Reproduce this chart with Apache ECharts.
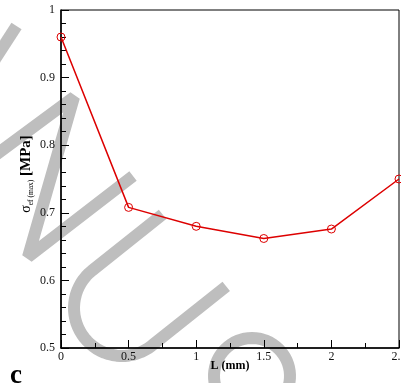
<!DOCTYPE html>
<html>
<head>
<meta charset="utf-8">
<script src="https://cdn.jsdelivr.net/npm/echarts@6/dist/echarts.min.js"></script>
<style>
  html, body { margin: 0; padding: 0; background: #fff; }
  #chart { width: 401px; height: 383px; }
</style>
</head>
<body>
<div id="chart"></div>
<script>
// Maximum effective stress against length L
const lengths   = [0, 0.5, 1, 1.5, 2, 2.5];
const stressMax = [0.96, 0.708, 0.68, 0.662, 0.676, 0.75];

// Axis tick values
const xTicks = [0, 0.5, 1, 1.5, 2, 2.5];
const yTicks = [0.5, 0.6, 0.7, 0.8, 0.9, 1];

const SERIF = '"Liberation Serif", "Times New Roman", serif';
const RED = '#dd0000';
const WM_GRAY = '#bebebe';

// ---- background watermark strokes (decorative lettering) ----
function arcPoints(cx, cy, r, a0, a1, steps) {
  const pts = [];
  for (let i = 0; i <= steps; i++) {
    const a = (a0 + (a1 - a0) * i / steps) * Math.PI / 180;
    pts.push([cx + r * Math.cos(a), cy + r * Math.sin(a)]);
  }
  return pts;
}
function uShape() {
  const c = [122, 308], r = 48, th = 38.5 * Math.PI / 180;
  const u = [Math.cos(th), -Math.sin(th)];
  const arc = arcPoints(c[0], c[1], r, 231.5, 51.5, 36);
  const s = arc[0], e = arc[arc.length - 1];
  return [[s[0] + u[0] * 90, s[1] + u[1] * 90]]
    .concat(arc)
    .concat([[e[0] + u[0] * 95, e[1] + u[1] * 95]]);
}
const strokeStyle = { stroke: WM_GRAY, lineWidth: 12, fill: null, lineCap: 'butt', lineJoin: 'bevel' };
const watermark = [
  [[-10, 67], [16.5, 26]],
  [[-22, 168], [74, 97], [28, 257], [133, 176]],
  uShape(),
  arcPoints(252, 376, 38, 160, 380, 40)
].map(pts => ({
  type: 'polyline',
  z: -10,
  silent: true,
  shape: { points: pts },
  style: strokeStyle
}));

const chart = echarts.init(document.getElementById('chart'), null, { renderer: 'canvas' });

chart.setOption({
  backgroundColor: '#fff',
  animation: false,
  grid: {
    left: 61, right: 2, top: 10, bottom: 35,
    outerBoundsMode: 'none',
    containLabel: false,
    show: true, borderColor: '#000', borderWidth: 1,
    backgroundColor: 'transparent'
  },
  xAxis: {
    type: 'value',
    min: xTicks[0], max: xTicks[xTicks.length - 1], interval: xTicks[1] - xTicks[0],
    name: 'L (mm)',
    nameLocation: 'middle',
    nameGap: 12,
    nameMoveOverlap: false,
    nameTextStyle: { fontFamily: SERIF, fontSize: 12, fontWeight: 'bold', color: '#000' },
    axisLine: { lineStyle: { color: '#000', width: 1.5 } },
    axisTick: { inside: true, length: 8, lineStyle: { color: '#000', width: 1 } },
    minorTick: { show: true, splitNumber: 2, length: 5, lineStyle: { color: '#000', width: 1 } },
    splitLine: { show: false },
    axisLabel: {
      fontFamily: SERIF, fontSize: 12, color: '#111', margin: 3,
      showMinLabel: true, showMaxLabel: true, hideOverlap: false
    }
  },
  yAxis: {
    type: 'value',
    min: yTicks[0], max: yTicks[yTicks.length - 1], interval: 0.1,
    name: '{s|σ}{sub|ef (max)}{b| [MPa]}',
    nameLocation: 'middle',
    nameRotate: 90,
    nameGap: 26,
    nameMoveOverlap: false,
    nameTextStyle: {
      color: '#000',
      padding: [0, 0, 0, 10],
      rich: {
        s:   { fontFamily: SERIF, fontSize: 14, color: '#000', lineHeight: 18, verticalAlign: 'middle' },
        sub: { fontFamily: SERIF, fontSize: 7.5, color: '#000', lineHeight: 18, verticalAlign: 'bottom' },
        b:   { fontFamily: SERIF, fontSize: 15, fontWeight: 'bold', color: '#000', lineHeight: 18, verticalAlign: 'middle' }
      }
    },
    axisLine: { lineStyle: { color: '#000', width: 1.5 } },
    axisTick: { inside: true, length: 8, lineStyle: { color: '#000', width: 1 } },
    minorTick: { show: true, splitNumber: 5, length: 5, lineStyle: { color: '#000', width: 1 } },
    splitLine: { show: false },
    axisLabel: { fontFamily: SERIF, fontSize: 12, color: '#111', margin: 6 }
  },
  graphic: watermark.concat([{
    type: 'text',
    left: 10,
    top: 363,
    silent: true,
    style: { text: 'c', font: 'bold 27px ' + SERIF, fill: '#000' }
  }]),
  series: [{
    type: 'line',
    data: lengths.map((x, i) => [x, stressMax[i]]),
    symbol: 'circle',
    symbolSize: 8,
    z: 3,
    lineStyle: { color: RED, width: 1.5 },
    itemStyle: { color: 'rgba(0,0,0,0)', borderColor: RED, borderWidth: 1 },
    clip: false
  }]
});
</script>
</body>
</html>
